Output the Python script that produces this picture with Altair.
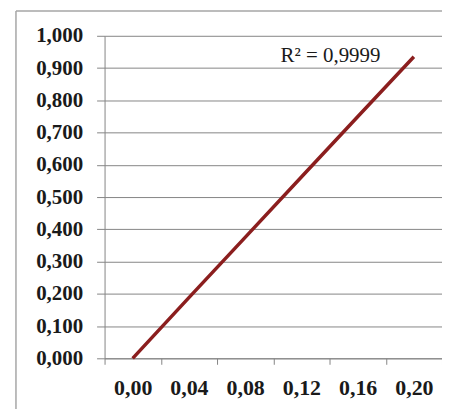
import altair as alt
import pandas as pd

x_labels = ["0,00", "0,04", "0,08", "0,12", "0,16", "0,20"]
y_values = [0.000, 0.188, 0.375, 0.562, 0.749, 0.935]
y_ticks = [0.0, 0.1, 0.2, 0.3, 0.4, 0.5, 0.6, 0.7, 0.8, 0.9, 1.0]
r2_text = "R² = 0,9999"

df = pd.DataFrame({"x": x_labels, "y": y_values})

FONT = "Liberation Serif"
GRID = "#858585"

x_enc = alt.X(
    "x:N",
    sort=x_labels,
    scale=alt.Scale(type="band", paddingInner=0, paddingOuter=0),
    axis=alt.Axis(
        title=None, labelAngle=0, tickBand="extent", tickSize=6, tickColor=GRID,
        domainColor=GRID, labelFont=FONT, labelFontSize=22, labelFontWeight="bold",
        labelColor="#1a1a1a", labelPadding=13, grid=False,
    ),
)
y_enc = alt.Y(
    "y:Q",
    scale=alt.Scale(domain=[0, 1], nice=False),
    axis=alt.Axis(
        title=None, values=y_ticks, labelExpr="replace(format(datum.value, '.3f'), '.', ',')",
        tickSize=8, tickColor=GRID, domainColor=GRID, gridColor=GRID, gridOpacity=1,
        labelFont=FONT, labelFontSize=21, labelFontWeight="bold", labelColor="#1a1a1a",
        labelPadding=14,
    ),
)

line = alt.Chart(df).mark_line(color="#8B1E1E", strokeWidth=3.5).encode(x=x_enc, y=y_enc)

label = alt.Chart(pd.DataFrame({"t": [r2_text]})).mark_text(
    font=FONT, fontSize=21, color="#1a1a1a", align="center", baseline="alphabetic"
).encode(text="t:N", x=alt.value(227), y=alt.value(26))

border_left = alt.Chart(pd.DataFrame({"a": [0]})).mark_rule(color="#a6a6a6", strokeWidth=1.5).encode(
    x=alt.value(-89), y=alt.value(-25), y2=alt.value(420)
)
border_top = alt.Chart(pd.DataFrame({"a": [0]})).mark_rule(color="#a6a6a6", strokeWidth=1.5).encode(
    x=alt.value(-89), x2=alt.value(360), y=alt.value(-25)
)

chart = alt.layer(border_left, border_top, line, label).properties(
    width=339, height=324,
    autosize=alt.AutoSizeParams(type="none"),
    padding={"left": 97, "top": 27, "right": 0, "bottom": 50},
).configure_view(stroke=None)

chart.save("out.html", embed_options={"renderer": "svg", "actions": False})
